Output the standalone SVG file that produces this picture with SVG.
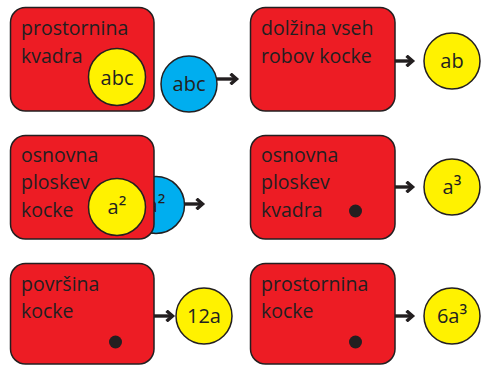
<svg xmlns="http://www.w3.org/2000/svg" width="481" height="365" viewBox="0 0 481 365">
  <style>
    .box { fill: #ed1c24; stroke: #231f20; stroke-width: 1.5; }
    .yel { fill: #fff200; stroke: #231f20; stroke-width: 1.5; }
    .blu { fill: #00aeef; stroke: #231f20; stroke-width: 1.5; }
    .dot { fill: #231f20; }
    text { font-family: "Open Sans", "Noto Sans", sans-serif; font-size: 19.5px; fill: #231f20; }
    .c { text-anchor: middle; font-size: 20px; }
    .sup { font-size: 22px; }
    .arr { fill: none; stroke: #231f20; stroke-width: 3.4; }
  </style>
  <defs>
    <marker id="head" viewBox="0 0 12 12" refX="9.5" refY="6" markerWidth="12" markerHeight="12" markerUnits="userSpaceOnUse" orient="auto">
      <path d="M3,0.8 L9,6 L3,11.2" fill="none" stroke="#231f20" stroke-width="3.4"/>
    </marker>
  </defs>

  <!-- row 1 -->
  <g id="n-blue-abc">
    <circle class="blu" cx="189" cy="84" r="28"/>
    <text class="c" x="189" y="91">abc</text>
  </g>
  <g id="n-prostornina-kvadra">
    <rect class="box" x="10.5" y="7.5" width="143.5" height="103.5" rx="15"/>
    <text x="21" y="35">prostornina</text>
    <text x="21" y="63">kvadra</text>
    <circle class="yel" cx="117" cy="77" r="28.5"/>
    <text class="c" x="117" y="85">abc</text>
  </g>
  <g id="n-dolzina">
    <rect class="box" x="250.5" y="7.5" width="144.5" height="103.5" rx="15"/>
    <text x="261" y="35">dolžina vseh</text>
    <text x="261" y="63">robov kocke</text>
  </g>
  <g id="n-ab">
    <circle class="yel" cx="452" cy="61" r="28"/>
    <text class="c" x="452" y="68">ab</text>
  </g>

  <!-- row 2 -->
  <g id="n-blue-a2">
    <circle class="blu" cx="156" cy="205" r="28.5"/>
    <text class="c" x="156" y="212">a<tspan class="sup">²</tspan></text>
  </g>
  <g id="n-osnovna-kocke">
    <rect class="box" x="10.5" y="135.5" width="143.5" height="103.5" rx="15"/>
    <text x="21" y="162">osnovna</text>
    <text x="21" y="189">ploskev</text>
    <text x="21" y="217">kocke</text>
    <circle class="yel" cx="117" cy="207" r="28.5"/>
    <text class="c" x="117" y="214">a<tspan class="sup">²</tspan></text>
  </g>
  <g id="n-osnovna-kvadra">
    <rect class="box" x="250.5" y="135.5" width="144.5" height="103.5" rx="15"/>
    <text x="261" y="162">osnovna</text>
    <text x="261" y="189">ploskev</text>
    <text x="261" y="217">kvadra</text>
    <circle class="dot" cx="355.5" cy="211" r="6.5"/>
  </g>
  <g id="n-a3">
    <circle class="yel" cx="452" cy="187" r="28"/>
    <text class="c" x="452" y="194">a<tspan class="sup">³</tspan></text>
  </g>

  <!-- row 3 -->
  <g id="n-povrsina">
    <rect class="box" x="10.5" y="263.5" width="143.5" height="100.5" rx="15"/>
    <text x="21" y="291">površina</text>
    <text x="21" y="318">kocke</text>
    <circle class="dot" cx="115.5" cy="342" r="6.5"/>
  </g>
  <g id="n-12a">
    <circle class="yel" cx="204" cy="316" r="28"/>
    <text class="c" x="204" y="323">12a</text>
  </g>
  <g id="n-prostornina-kocke">
    <rect class="box" x="250.5" y="263.5" width="144.5" height="100.5" rx="15"/>
    <text x="261" y="291">prostornina</text>
    <text x="261" y="318">kocke</text>
    <circle class="dot" cx="355.5" cy="342" r="6.5"/>
  </g>
  <g id="n-6a3">
    <circle class="yel" cx="452" cy="316" r="28"/>
    <text class="c" x="452" y="323">6a<tspan class="sup">³</tspan></text>
  </g>

  <!-- connectors -->
  <g id="connectors">
    <line class="arr" x1="217" y1="79" x2="237" y2="79" marker-end="url(#head)"/>
    <line class="arr" x1="395" y1="61" x2="413" y2="61" marker-end="url(#head)"/>
    <line class="arr" x1="184.5" y1="204" x2="203" y2="204" marker-end="url(#head)"/>
    <line class="arr" x1="395" y1="187" x2="413" y2="187" marker-end="url(#head)"/>
    <line class="arr" x1="154" y1="316" x2="173" y2="316" marker-end="url(#head)"/>
    <line class="arr" x1="395" y1="316" x2="413" y2="316" marker-end="url(#head)"/>
  </g>
</svg>
